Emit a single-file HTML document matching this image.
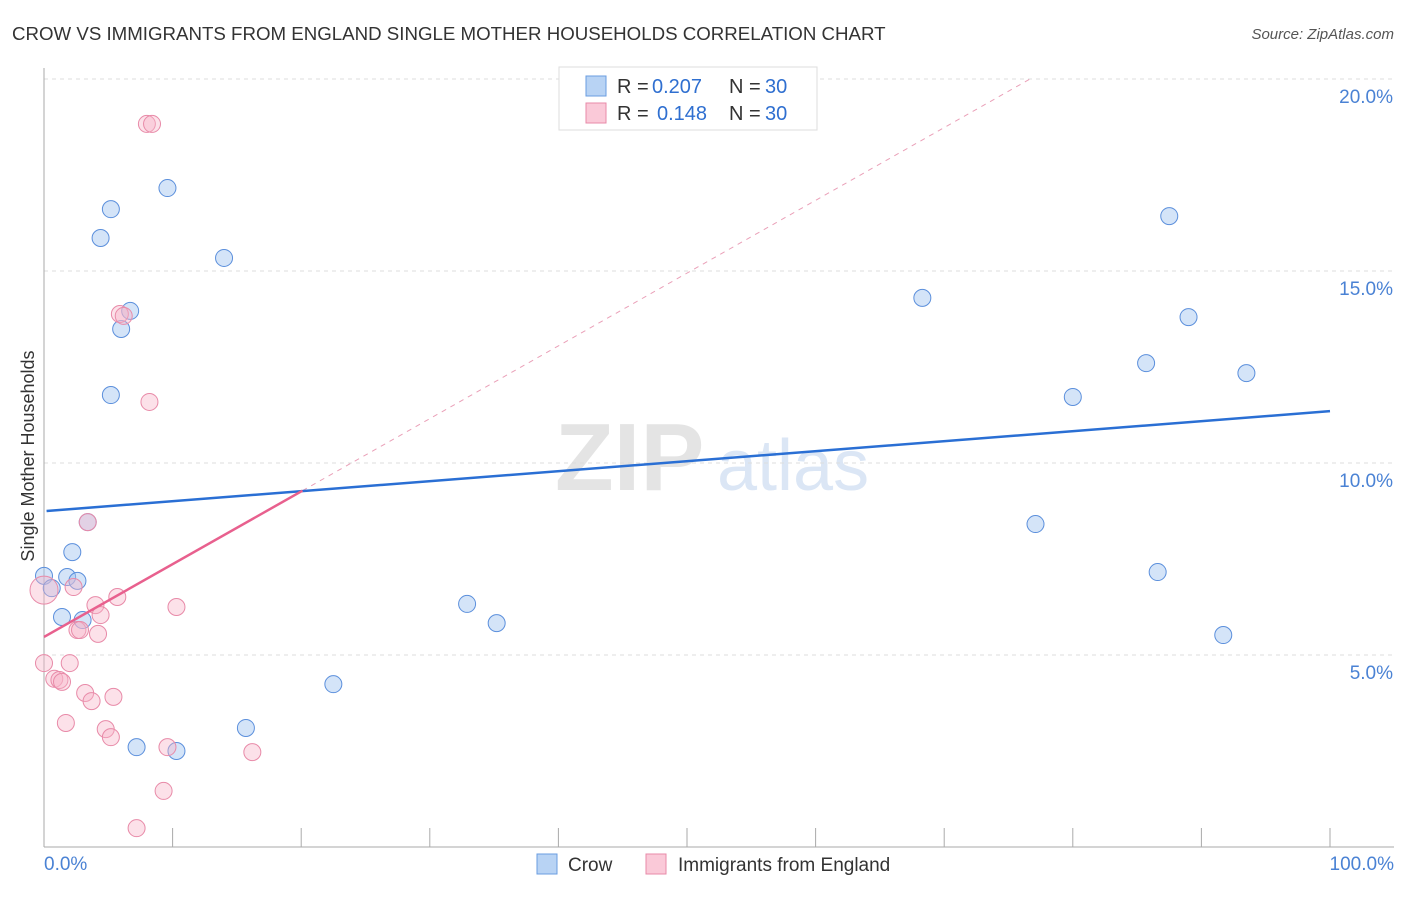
<!DOCTYPE html>
<html><head><meta charset="utf-8"><style>
body{margin:0;background:#fff;font-family:"Liberation Sans",sans-serif}
svg text{font-family:"Liberation Sans",sans-serif}
</style></head><body>
<svg id="c" width="1406" height="892" xmlns="http://www.w3.org/2000/svg">
<text x="12" y="40" font-size="18.7" fill="#333">CROW VS IMMIGRANTS FROM ENGLAND SINGLE MOTHER HOUSEHOLDS CORRELATION CHART</text>
<text x="1394" y="39" font-size="15" fill="#555" font-style="italic" text-anchor="end">Source: ZipAtlas.com</text>
<text transform="translate(34,456) rotate(-90)" font-size="18" fill="#333" text-anchor="middle">Single Mother Households</text>
<g><text x="555" y="490" font-size="96" fill="#e4e4e4" font-family="Liberation Serif,serif" font-weight="bold">ZIP</text><text x="717" y="490" font-size="72" fill="#dbe6f5">atlas</text></g>
<g id="grid"></g><g id="axes"></g><g id="lines"></g><g id="pts"></g>
<g>
<rect x="559" y="67" width="258" height="63" fill="#fff" stroke="#ddd"/>
<rect x="586" y="76" width="20" height="20" fill="#b8d3f4" stroke="#6a9de0"/>
<text x="617" y="93" font-size="20" fill="#333">R =</text><text x="652" y="93" font-size="20" fill="#2f6fd0">0.207</text>
<text x="729" y="93" font-size="20" fill="#333">N =</text><text x="765" y="93" font-size="20" fill="#2f6fd0">30</text>
<rect x="586" y="103" width="20" height="20" fill="#fac9d8" stroke="#e88aa8"/>
<text x="617" y="120" font-size="20" fill="#333">R =</text><text x="657" y="120" font-size="20" fill="#2f6fd0">0.148</text>
<text x="729" y="120" font-size="20" fill="#333">N =</text><text x="765" y="120" font-size="20" fill="#2f6fd0">30</text>
</g>
<g>
<rect x="537" y="854" width="20" height="20" fill="#b8d3f4" stroke="#6a9de0"/>
<text x="568" y="871" font-size="19" fill="#333">Crow</text>
<rect x="646" y="854" width="20" height="20" fill="#fac9d8" stroke="#e88aa8"/>
<text x="678" y="871" font-size="19" fill="#333">Immigrants from England</text>
</g>
</svg>
<script>
const crowX=[0,0.6,1.4,1.8,2.2,2.6,3.0,3.4,4.4,5.2,5.2,6.0,6.7,7.2,9.6,10.3,14.0,15.7,22.5,32.9,35.2,68.3,77.1,80.0,85.7,86.6,87.5,89.0,91.7,93.5];
const crowY=[7.06,6.74,5.99,7.03,7.68,6.93,5.91,8.46,15.86,16.61,11.77,13.49,13.96,2.60,17.16,2.50,15.34,3.10,4.24,6.33,5.83,14.30,8.41,11.72,12.60,7.16,16.43,13.80,5.52,12.34];
const engX=[0,0,0.8,1.2,1.4,1.7,2.0,2.3,2.6,2.8,3.2,3.7,4.0,4.2,4.4,4.8,5.2,5.4,5.7,5.9,6.2,7.2,8.0,8.4,8.2,9.3,9.6,10.3,16.2,3.4];
const engY=[6.69,4.79,4.38,4.35,4.30,3.23,4.79,6.77,5.65,5.65,4.01,3.80,6.30,5.55,6.04,3.07,2.86,3.91,6.51,13.88,13.83,0.49,18.83,18.83,11.59,1.46,2.60,6.25,2.47,8.46];
const yTicks=[5,10,15,20];
const xTickLabels=["0.0%","100.0%"];
const crowTrend=[8.75,11.35];   // y at x=0 and x=100
const engTrend=[5.47,0.1895];   // intercept, slope
const X=v=>44+v*12.86, Y=v=>847-v*38.4;
const NS="http://www.w3.org/2000/svg";
function mk(p,t,a){const e=document.createElementNS(NS,t);for(const k in a)e.setAttribute(k,a[k]);p.appendChild(e);return e;}
const g=document.getElementById('grid'),ax=document.getElementById('axes'),ln=document.getElementById('lines'),pt=document.getElementById('pts');
yTicks.forEach(t=>{const l=mk(g,'line',{x1:44,x2:1394,y1:Y(t),y2:Y(t),stroke:'#ddd','stroke-dasharray':'4,4'});


const tx=mk(ax,'text',{x:1393,y:Y(t)+24,'font-size':19,fill:'#4a82d4','text-anchor':'end'});tx.textContent=t.toFixed(1)+'%';

});
mk(ax,'line',{x1:44,x2:44,y1:68,y2:847,stroke:'#aaa'});
mk(ax,'line',{x1:44,x2:1394,y1:847,y2:847,stroke:'#aaa'});
for(let i=0;i<=10;i++){mk(ax,'line',{x1:X(i*10),x2:X(i*10),y1:828,y2:847,stroke:'#aaa'});}
let t0=mk(ax,'text',{x:44,y:870,'font-size':19,fill:'#4a82d4'});t0.textContent=xTickLabels[0];


let t1=mk(ax,'text',{x:1394,y:870,'font-size':19,fill:'#4a82d4','text-anchor':'end'});t1.textContent=xTickLabels[1];


const dEnd=(20-engTrend[0])/engTrend[1];
let d=mk(ln,'line',{x1:X(20.1),y1:Y(engTrend[0]+engTrend[1]*20.1),x2:X(dEnd),y2:Y(20),stroke:'#eaa0b8','stroke-dasharray':'5,5','stroke-width':1});


crowX.forEach((x,i)=>{const c=mk(pt,'circle',{cx:X(x),cy:Y(crowY[i]),r:8.5,fill:'rgba(160,196,240,0.45)',stroke:'#5b8fdc','stroke-width':1});

});
engX.forEach((x,i)=>{const c=mk(pt,'circle',{cx:X(x),cy:Y(engY[i]),r:i==0?14:8.5,fill:'rgba(248,180,200,0.4)',stroke:'#e88aa8','stroke-width':1});

});
let b=mk(pt,'line',{x1:X(0.2),y1:Y(crowTrend[0]),x2:X(100),y2:Y(crowTrend[1]),stroke:'#2a6fd4','stroke-width':2.5});


let p=mk(pt,'line',{x1:X(0),y1:Y(engTrend[0]),x2:X(20.1),y2:Y(engTrend[0]+engTrend[1]*20.1),stroke:'#e8608e','stroke-width':2.5});


</script>
</body></html>
